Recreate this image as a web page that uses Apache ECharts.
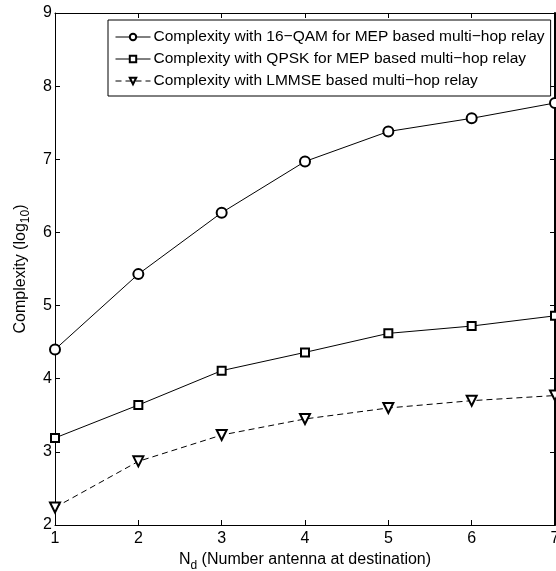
<!DOCTYPE html>
<html>
<head>
<meta charset="utf-8">
<script src="https://cdn.jsdelivr.net/npm/echarts@6/dist/echarts.min.js"></script>
<style>
  html, body { margin: 0; padding: 0; background: #fff; }
  #main { width: 556px; height: 571px; }
</style>
</head>
<body>
<div id="main"></div>
<script>
  // N_d values
  var antennas = [1, 2, 3, 4, 5, 6, 7];
  var qam16 = [4.40, 5.43, 6.27, 6.97, 7.38, 7.56, 7.77];
  var qpsk = [3.19, 3.64, 4.11, 4.36, 4.62, 4.72, 4.86];
  var lmmse = [2.24, 2.87, 3.23, 3.45, 3.60, 3.70, 3.77];
  var names = [
    'Complexity with 16\u2212QAM for MEP based multi\u2212hop relay',
    'Complexity with QPSK for MEP based multi\u2212hop relay',
    'Complexity with LMMSE based multi\u2212hop relay'
  ];

  function pairs(ys) {
    return antennas.map(function (x, i) { return [x, ys[i]]; });
  }

  var font = "'Liberation Sans', Arial, Helvetica, sans-serif";
  var black = '#000';

  var myChart = echarts.init(document.getElementById('main'));
  var option = {
    animation: false,
    backgroundColor: '#fff',
    textStyle: { fontFamily: font, color: black },
    grid: { left: 55, right: 1, top: 13, bottom: 46, outerBoundsMode: 'none', containLabel: false },
    legend: {
      orient: 'vertical',
      left: 108,
      top: 20,
      padding: [9, 6, 7, 7],
      itemGap: 6,
      itemWidth: 35,
      itemHeight: 8,
      backgroundColor: '#fff',
      borderColor: black,
      borderWidth: 1,
      lineStyle: { width: 1 },
      itemStyle: { borderWidth: 1 },
      textStyle: { fontFamily: font, fontSize: 15.5, color: black, padding: [0, 0, 0, -2] },
      data: names
    },
    xAxis: [{
      type: 'value',
      min: 1, max: 7, interval: 1,
      name: '{a|N}{s|d}{a| (Number antenna at destination)}',
      nameLocation: 'middle',
      nameGap: 22,
      nameTextStyle: {
        rich: {
          a: { fontSize: 16, fontFamily: font, color: black },
          s: { fontSize: 12, fontFamily: font, color: black, padding: [11, 0, 0, 0] }
        }
      },
      axisLine: { lineStyle: { color: black, width: 1 } },
      axisTick: { inside: true, length: 5, lineStyle: { color: black } },
      axisLabel: { fontSize: 16, color: black, margin: 6, fontFamily: font },
      splitLine: { show: false }
    }, {
      type: 'value', position: 'top',
      min: 1, max: 7, interval: 1,
      axisLine: { lineStyle: { color: black, width: 1 } },
      axisTick: { inside: true, length: 5, lineStyle: { color: black } },
      axisLabel: { show: false },
      splitLine: { show: false }
    }],
    yAxis: [{
      type: 'value',
      min: 2, max: 9, interval: 1,
      name: '{a|Complexity (log}{s|10}{a|)}',
      nameLocation: 'middle',
      nameGap: 23,
      nameTextStyle: {
        rich: {
          a: { fontSize: 16, fontFamily: font, color: black },
          s: { fontSize: 12, fontFamily: font, color: black, padding: [11, 0, 0, 0] }
        }
      },
      axisLine: { show: true, lineStyle: { color: black, width: 1 } },
      axisTick: { show: true, inside: true, length: 5, lineStyle: { color: black } },
      axisLabel: { fontSize: 16, color: black, margin: 3, fontFamily: font },
      splitLine: { show: false }
    }, {
      type: 'value', position: 'right',
      min: 2, max: 9, interval: 1,
      axisLine: { show: true, lineStyle: { color: black, width: 2 } },
      axisTick: { show: true, inside: true, length: 5, lineStyle: { color: black } },
      axisLabel: { show: false },
      splitLine: { show: false }
    }],
    series: [{
      name: names[0],
      type: 'line',
      data: pairs(qam16),
      symbol: 'emptyCircle',
      symbolSize: 10,
      lineStyle: { color: black, width: 1 },
      itemStyle: { color: black, borderWidth: 1 }
    }, {
      name: names[1],
      type: 'line',
      data: pairs(qpsk),
      symbol: 'emptyRect',
      symbolSize: 8,
      lineStyle: { color: black, width: 1 },
      itemStyle: { color: black, borderWidth: 1 }
    }, {
      name: names[2],
      type: 'line',
      data: pairs(lmmse),
      symbol: 'emptyTriangle',
      symbolRotate: 180,
      symbolSize: 10,
      lineStyle: { color: black, width: 1, type: [6, 4] },
      itemStyle: { color: black, borderWidth: 1 }
    }]
  };
  myChart.setOption(option);
</script>
</body>
</html>
